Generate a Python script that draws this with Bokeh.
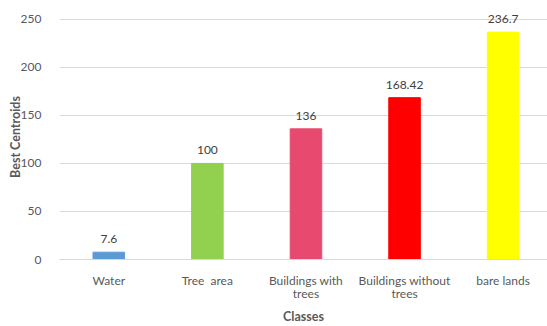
from bokeh.plotting import figure
from bokeh.models import Range1d, FixedTicker, ColumnDataSource, Title
from bokeh.embed import file_html
from bokeh.resources import INLINE
from bokeh.core.properties import value

# Data
classes = ["Water", "Tree\u00a0\u00a0area", "Buildings with\ntrees", "Buildings without\ntrees", "bare lands"]
centroids = [7.6, 100, 136, 168.42, 236.7]
bar_colors = ["#5b9bd5", "#92d050", "#e84a6f", "#ff0000", "#ffff00"]
y_ticks = [0, 50, 100, 150, 200, 250]

FONT = "Lato"
TEXT_COLOR = "#595959"

xs = list(range(len(classes)))
src = ColumnDataSource(dict(
    x=xs,
    top=centroids,
    color=bar_colors,
    label=[("%g" % v) for v in centroids],
))

p = figure(width=547, height=326, output_backend="svg", toolbar_location=None,
           x_range=Range1d(-0.5, 4.45), y_range=Range1d(0, 255),
           min_border_left=59, min_border_right=0, min_border_top=14, min_border_bottom=67)
p.outline_line_color = None
p.background_fill_color = "white"
p.border_fill_color = "white"

p.vbar(x="x", top="top", width=0.32, color="color", source=src)
p.text(x="x", y="top", text="label", source=src, text_align="center", text_baseline="bottom",
       y_offset=-9, text_font=value(FONT), text_font_size="12px", text_color="#404040")

# y axis
p.yaxis.ticker = FixedTicker(ticks=y_ticks)
p.yaxis.axis_line_color = None
p.yaxis.major_tick_line_color = None
p.yaxis.minor_tick_line_color = None
p.yaxis.major_label_standoff = 12
p.yaxis.major_label_text_font = FONT
p.yaxis.major_label_text_font_size = "12px"
p.yaxis.major_label_text_color = TEXT_COLOR
p.yaxis.axis_label = "Best Centroids"
p.yaxis.axis_label_text_font = FONT
p.yaxis.axis_label_text_font_size = "12.5px"
p.yaxis.axis_label_text_font_style = "bold"
p.yaxis.axis_label_text_color = TEXT_COLOR
p.yaxis.axis_label_standoff = -5

# x axis
p.xaxis.ticker = FixedTicker(ticks=xs)
p.xaxis.major_label_overrides = {i: c for i, c in enumerate(classes)}
p.xaxis.axis_line_color = "#d9d9d9"
p.xaxis.major_tick_line_color = None
p.xaxis.minor_tick_line_color = None
p.xaxis.major_label_standoff = 7
p.xaxis.major_label_text_font = FONT
p.xaxis.major_label_text_font_size = "12px"
p.xaxis.major_label_text_line_height = 0.9
p.xaxis.major_label_text_color = TEXT_COLOR

# x axis title set below the tick labels
x_title = Title(text="Classes", align="center", text_font=FONT, text_font_size="12.5px",
                text_font_style="bold", text_color=TEXT_COLOR, standoff=5, offset=3)
p.add_layout(x_title, "below")

p.xgrid.grid_line_color = None
p.ygrid.grid_line_color = "#d9d9d9"
p.ygrid.grid_line_width = 1

open("out.html", "w").write(file_html(p, INLINE))
